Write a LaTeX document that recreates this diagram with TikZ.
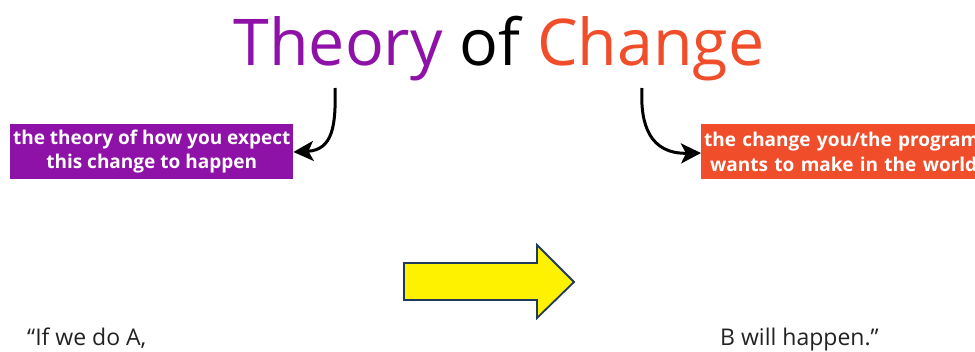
\documentclass[tikz,border=0pt]{standalone}
\usepackage{fontspec}
\setmainfont{Open Sans}
\usetikzlibrary{arrows.meta}
\definecolor{tpurple}{HTML}{8E12A8}
\definecolor{torange}{HTML}{F04E2A}
\definecolor{tblue}{HTML}{1F3A5A}
\definecolor{tgray}{HTML}{222222}
\tikzset{
  lbl/.style={fill=#1, text=white, font=\bfseries\fontsize{19}{24.5}\selectfont, inner sep=0pt, anchor=north west},
  crv/.style={line width=3pt, -{Stealth[length=20pt,width=20pt,inset=5pt]}, black},
  quote/.style={font=\fontsize{23}{28}\selectfont, text=tgray, anchor=base west, inner sep=0pt}
}
\begin{document}
\begin{tikzpicture}[x=1pt,y=-1pt]
\useasboundingbox (0,0) rectangle (975,351);
\clip (0,0) rectangle (975,351);
\node[font=\fontsize{64.5}{76}\selectfont, anchor=base, inner sep=0pt] (title) at (499,65)
  {\textcolor{tpurple}{Theory} \textcolor{black}{of} \textcolor{torange}{Change}};
\node[lbl=tpurple, minimum width=283pt, minimum height=55pt, align=center] (lb) at (10,124)
  {the theory of how you expect\\this change to happen};
\node[lbl=torange, minimum width=300pt, minimum height=55pt, text width=300pt, align=left] (rb) at (701,124)
  {\hspace*{3pt}the change you/the program\\\hspace*{9pt}wants to make in the world};
\coordinate (ls) at (335,88);
\coordinate (rs) at (642,88);
\draw[crv] (ls) .. controls (336,125) and (333,150) .. (lb.east |- 0,152);
\draw[crv] (rs) .. controls (640,125) and (650,154) .. (rb.west |- 0,153);
\draw[tblue, fill=yellow, line width=1.8pt, line join=miter]
  (404,263) -- (537,263) -- (537,245) -- (574,282) -- (537,318) -- (537,300) -- (404,300) -- cycle;
\node[quote] (qa) at (27,345) {“If we do A,};
\node[quote] (qb) at (720,345) {B will happen.”};
\end{tikzpicture}
\end{document}
